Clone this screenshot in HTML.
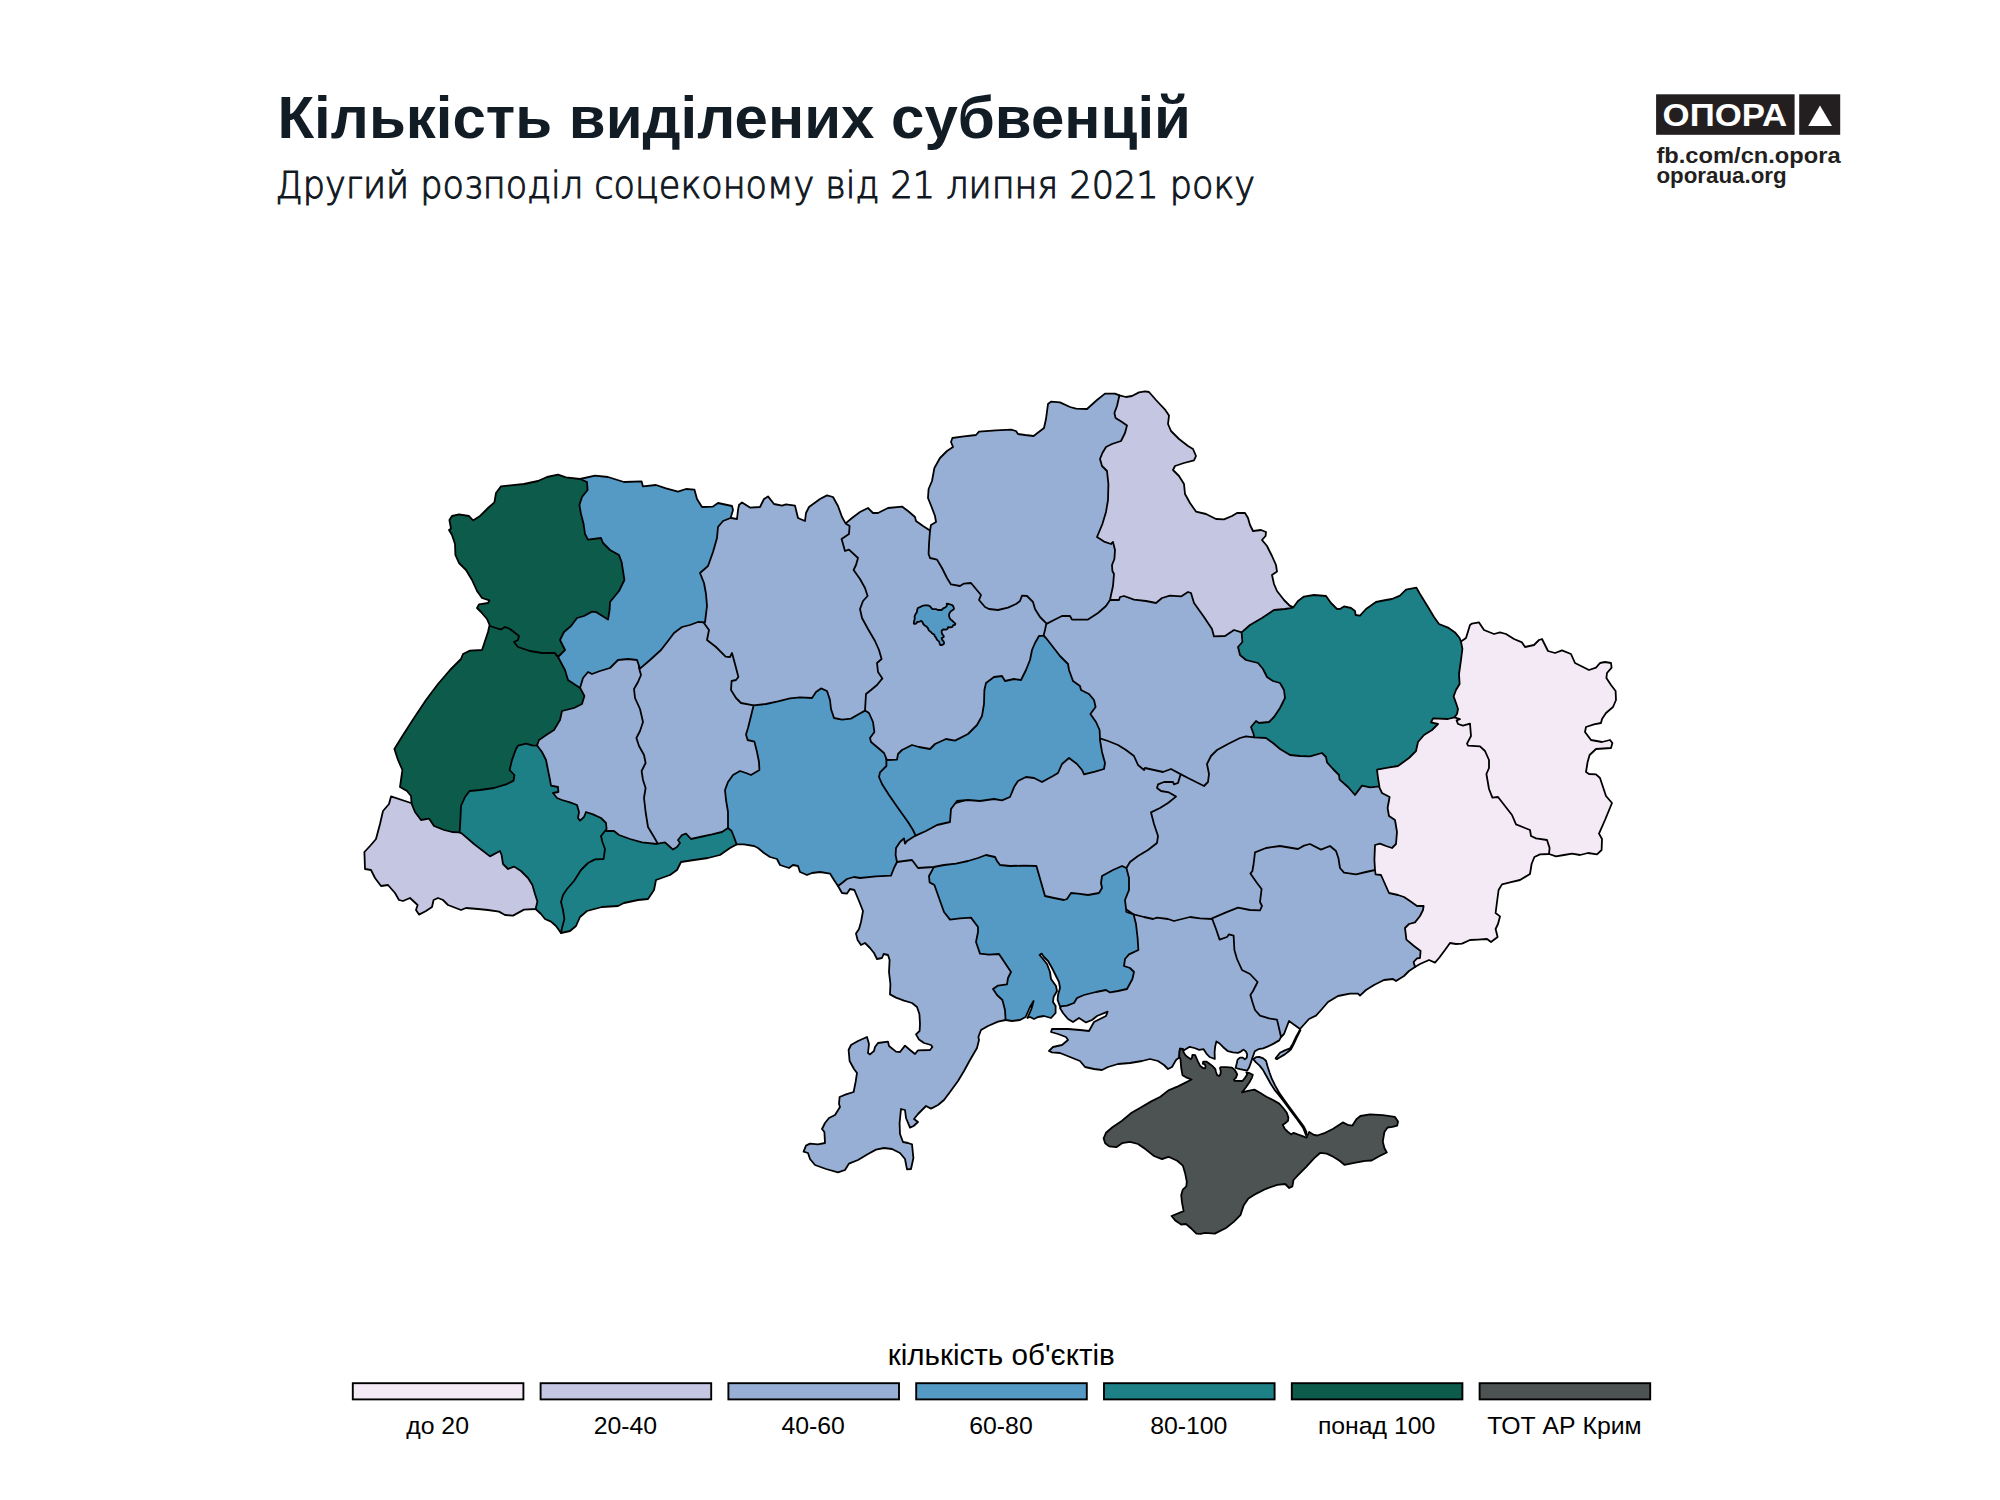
<!DOCTYPE html>
<html lang="uk"><head><meta charset="utf-8"><title>Кількість виділених субвенцій</title>
<style>
html,body{margin:0;padding:0;background:#fff;}
body{width:2000px;height:1500px;overflow:hidden;position:relative;font-family:"Liberation Sans","DejaVu Sans",sans-serif;}
svg{position:absolute;left:0;top:0;}
.t1{font-family:"Liberation Sans","DejaVu Sans",sans-serif;font-weight:bold;font-size:59.4px;fill:#121c25;}
.t2{font-family:"DejaVu Sans Light","DejaVu Sans","Liberation Sans",sans-serif;font-weight:200;font-size:37.5px;fill:#10171e;stroke:#10171e;stroke-width:1.05px;}
.lg{font-family:"Liberation Sans",sans-serif;font-size:24.8px;fill:#000;text-anchor:middle;}
.lt{font-family:"Liberation Sans",sans-serif;font-size:29.6px;fill:#000;text-anchor:middle;}
.op{font-family:"Liberation Sans",sans-serif;font-weight:bold;font-size:31.7px;fill:#fff;}
.ur{font-family:"Liberation Sans",sans-serif;font-weight:bold;font-size:21.5px;fill:#231f20;}
</style></head><body>
<svg width="2000" height="1500" viewBox="0 0 2000 1500">
<text class="t1" x="277.5" y="138" textLength="913.5" lengthAdjust="spacingAndGlyphs">Кількість виділених субвенцій</text>
<text class="t2" x="275.5" y="198" textLength="979.5" lengthAdjust="spacingAndGlyphs">Другий розподіл соцеконому від 21 липня 2021 року</text>
<g>
<rect x="1656.1" y="94.3" width="138.5" height="40.5" fill="#231f20"/>
<rect x="1799.2" y="94.3" width="41" height="40.5" fill="#231f20"/>
<polygon points="1820,105.4 1808.2,125.9 1832,125.9" fill="#fff"/>
<text class="op" x="1662.6" y="125.9" textLength="124.5" lengthAdjust="spacingAndGlyphs">ОПОРА</text>
<text class="ur" x="1656.4" y="163" textLength="184.3" lengthAdjust="spacingAndGlyphs">fb.com/cn.opora</text>
<text class="ur" x="1656.4" y="183.1" textLength="130.3" lengthAdjust="spacingAndGlyphs">oporaua.org</text>
</g>
<g stroke="#000" stroke-width="1.8" stroke-linejoin="round">
<path d="M1275.6 1058.4 L1280 1052.8 L1284.8 1050.4 L1290 1048.4 L1292.8 1043.6 L1296 1037 L1300 1029.8 L1300.5 1030.2 L1296.6 1037.8 L1293.6 1044.4 L1291 1049.4 L1288.8 1051.2 L1284.8 1054.4 L1280 1057.2 L1276.8 1059.2Z" fill="#98afd5"/>
<path d="M1253.2 1059.2 L1256 1057.2 L1259.2 1056.8 L1263.2 1058.4 L1266 1060.8 L1267.6 1066.4 L1269.6 1072.8 L1272 1079.2 L1275.2 1085.6 L1279.2 1092.8 L1284.8 1100.8 L1291.2 1109.6 L1298.4 1119.2 L1304 1126.8 L1306.4 1132 L1306 1135.2 L1303.2 1128 L1297.6 1120 L1290.4 1110.4 L1284 1101.6 L1278.4 1094.4 L1274.4 1089.6 L1270.4 1083.2 L1266.4 1076 L1262.8 1069.6 L1259.6 1065.6 L1256 1062.4Z" fill="#98afd5"/>
<path d="M838 886 L842 893 L847 893.6 L850 889 L854.4 890 L859 901 L863 911 L861 922 L859 929 L856 933.6 L857.6 940 L861 945 L865 943 L870 948 L874 953 L877 959 L882 958 L883.6 954 L888 955 L889.6 960 L889 972 L890.4 984 L890 994.4 L896 997.6 L904 1000.6 L912 1003 L917 1007 L919.4 1014 L920 1024 L919.6 1031 L916 1034.4 L919 1039.6 L924 1043 L931 1045 L932.4 1047 L930 1050 L918 1050.4 L915 1054 L910 1050 L905 1045.6 L900 1052 L896 1051.6 L889 1046 L888 1041.6 L878 1043 L875 1047 L874 1051 L870 1054.4 L868 1053 L869 1044 L867 1037 L858 1041 L851 1045 L848.6 1050 L849.6 1061 L854 1069 L857 1073 L855.6 1082 L853.6 1092 L846 1094.4 L839.6 1097 L839 1104 L840 1107 L835 1115 L829 1118 L825 1123 L822 1129 L824.4 1132 L825 1143 L818 1144.4 L810 1143.6 L806 1145.6 L803.6 1151.6 L808 1153 L810 1159 L815 1165 L826 1169 L838 1172.4 L845 1170 L849 1163.6 L858 1160 L868 1154 L876 1149.6 L884 1148 L892 1149 L900 1153 L905 1159 L907 1169.4 L911 1169 L913.4 1158 L912 1144.4 L908 1143 L903 1142 L900 1134 L899.6 1123 L901 1109 L905 1110 L906 1118 L910 1127.6 L913.6 1126 L918 1122 L914 1119 L918 1114 L926 1106 L931 1108.6 L938 1105 L944 1100 L950 1092 L958 1081 L964 1071 L970 1060 L977 1048 L979 1040 L978.4 1037 L981 1030 L988 1026 L998 1021.6 L1005.6 1020 L1016 1010 L1020 970 L990 940 L960 904 L940 872 L932 856 L910 852 L888 856 L850 868 L842 876Z" fill="#98afd5"/>
<path d="M1061 1006.4 L1060 1008 L1063 1013 L1068 1019 L1073 1022 L1079 1018 L1086 1022.4 L1092 1020 L1097 1016 L1107.6 1011.6 L1106 1016 L1094 1022 L1089 1031 L1080 1030 L1068 1029 L1052 1029 L1051 1032 L1058 1034 L1066 1037 L1068 1040 L1062 1045 L1053 1047 L1049 1051 L1052 1052.4 L1060 1053 L1070 1057 L1080 1061 L1085 1067 L1094 1069 L1102 1070 L1108 1067 L1118 1064 L1130 1063 L1142 1061 L1150 1059 L1158 1061 L1164 1065 L1168 1069 L1172 1067 L1176 1060 L1179 1057.6 L1179.2 1057.6 L1179.5 1052 L1180 1048.6 L1182.6 1048.8 L1184 1050.2 L1189.6 1046.8 L1194.4 1048 L1199.2 1049.8 L1203.6 1049.2 L1206.4 1053.6 L1209.6 1057 L1214.8 1059 L1214.6 1052 L1215.2 1046.4 L1216.4 1041.4 L1219.2 1043.2 L1223.2 1047.2 L1228 1051.2 L1232.8 1052.4 L1238 1052.8 L1240.8 1051.6 L1243.6 1049.6 L1246 1051.6 L1247.2 1054.4 L1246.8 1057.6 L1244.8 1059.4 L1242.8 1057.6 L1240 1057.6 L1237.6 1059.6 L1236.8 1063.2 L1235.6 1068 L1240 1069.2 L1247.2 1070.6 L1249.2 1067.2 L1251.2 1061.6 L1252.8 1056.8 L1254.8 1051.2 L1258.4 1049.2 L1263.2 1048.4 L1268 1046.4 L1273.6 1043.6 L1279.2 1040.4 L1281.2 1036.6 L1284 1028 L1284 1020 L1284 1020 L1280 1000 L1280 960 L1240 930 L1220 924 L1212 904 L1172 904 L1140 900 L1116 910 L1120 950 L1116 976 L1100 984 L1070 994Z" fill="#98afd5"/>
<path d="M1179.2 1057.6 L1179.5 1052 L1180 1048.6 L1182.6 1048.8 L1183.2 1051.2 L1184.8 1054.4 L1187.2 1056.8 L1190.8 1059.2 L1192 1057.6 L1192.4 1054.8 L1195.2 1055.2 L1196.4 1058 L1198 1061.6 L1200 1065.6 L1202.8 1068 L1205.2 1068.4 L1205.6 1066.4 L1204.8 1064.4 L1202.8 1063.6 L1203.2 1061.6 L1206.4 1061.6 L1208.8 1063.2 L1212 1065.6 L1215.2 1068.8 L1216 1072 L1217.2 1075.2 L1219.2 1076 L1220.4 1074.4 L1220.8 1071.2 L1220 1068 L1220.8 1067.2 L1226.4 1067.2 L1232 1067.6 L1234.4 1069.6 L1236 1072 L1237.2 1074.4 L1236 1077.6 L1234 1079.6 L1234.4 1080.8 L1242.4 1081 L1245.2 1077.6 L1247.2 1074.4 L1246.4 1072.4 L1248.8 1072.8 L1252.8 1074.8 L1252 1077.6 L1249.6 1082 L1246 1087.2 L1242 1092.4 L1248 1090.8 L1254.4 1089.6 L1260 1092.8 L1266.4 1096.8 L1273.6 1100.4 L1279.2 1103.6 L1283.2 1108 L1286.8 1112.8 L1288.4 1117.6 L1288 1120.8 L1285.2 1123.2 L1282.8 1124.8 L1284.8 1128.8 L1288 1132 L1291.2 1134.4 L1293.6 1132.8 L1297.6 1134.4 L1303.2 1136.4 L1306.4 1137.6 L1306.8 1136.8 L1309.2 1132 L1314 1134.9 L1317.2 1135.5 L1325.2 1132.8 L1333.2 1128.8 L1342.8 1122.4 L1347.6 1124.8 L1352.4 1125.6 L1356.4 1119.2 L1360.4 1116 L1370 1114.4 L1382.8 1115.2 L1394.8 1116.8 L1398 1121.6 L1397.2 1125.6 L1392.4 1126.9 L1387.6 1127.5 L1384.4 1132 L1382.8 1141.6 L1384.4 1148 L1386.8 1152.5 L1379.6 1156 L1371.6 1160.5 L1365.2 1160.8 L1355.6 1162.7 L1344.4 1164.8 L1339.6 1160.8 L1333.2 1156.8 L1326.8 1153.6 L1320.4 1152.8 L1314 1158.4 L1306 1167.2 L1298 1175.2 L1293.5 1180 L1292.4 1186.4 L1289.2 1188 L1285.2 1184 L1277.2 1184.8 L1266 1188.8 L1256.4 1193.6 L1248.4 1198.4 L1243.6 1205.6 L1240.4 1215.2 L1234 1221.6 L1226 1228 L1214.8 1233.6 L1205.2 1232.8 L1200.4 1233.9 L1196.4 1233.6 L1191.6 1228.8 L1186 1224 L1181.2 1224.5 L1175.6 1220.8 L1171.6 1216 L1183.6 1211.2 L1182 1202.4 L1181.2 1195.2 L1182.8 1189.6 L1186.3 1186.4 L1186.8 1181.6 L1185.2 1173.6 L1182.8 1165.6 L1177.2 1160.8 L1168.4 1156.8 L1162 1159.2 L1154 1156 L1146 1149.6 L1138 1144 L1130 1141.9 L1122 1143.2 L1116.4 1147.2 L1109.2 1146.4 L1105.2 1143.2 L1103.6 1138.4 L1106 1132.8 L1112.4 1127.2 L1122 1120.8 L1131.6 1112.8 L1141.2 1107.2 L1150.8 1101.6 L1160.4 1096.8 L1168.4 1090.4 L1178 1086.4 L1186 1082.4 L1191.6 1079.5 L1186 1077.3 L1182.5 1075.2 L1181.2 1068 L1180.4 1058.4Z" fill="#4d5353"/>
<path d="M1133.6 914.4 L1144 917 L1153 919 L1157 917.6 L1168 919 L1174 921 L1182 919 L1190 917 L1200 918.4 L1212 919 L1240 925 L1280 900 L1300 870 L1360 890 L1400 890 L1420 830 L1400 780 L1395 760 L1340 760 L1300 740 L1262 728 L1245 725 L1200 745 L1192 774 L1176 768 L1160 776 L1150 790 L1140 820 L1120 855 L1115 880 L1120 905Z" fill="#98afd5"/>
<path d="M1126.4 868 L1129 878 L1129 890 L1125 900 L1126.4 912 L1133.6 914.4 L1136 924 L1137.6 938 L1138.4 950 L1129 954.4 L1125 959 L1124 966 L1130 968 L1134 972 L1132.4 979 L1127 989 L1118 991 L1110 992.4 L1106 990 L1096 992 L1084 995 L1077 998 L1074 1003 L1067 1005.6 L1060 1006.4 L1057.6 1000 L1058 995 L1060 988 L1059 982 L1056 976 L1052 968 L1048 961 L1044 957 L1041.6 953.6 L1039.6 955 L1043 959 L1047 964 L1050 972 L1051 979 L1056 986 L1057 991 L1053.6 997 L1053 1002 L1055.6 1006 L1055.6 1013 L1051 1018 L1044 1016 L1038 1017 L1034 1019 L1030 1017 L1027.4 1018 L1031.4 1009 L1033.6 1001 L1030 1007 L1025.6 1017 L1020 1020 L1012 1021 L1005.6 1020 L1005 1010 L1002.4 1000 L997 995 L993 989 L998 985.6 L1007 984.4 L1008 978 L1011 972 L1005 963 L999 954 L989 954.6 L980 953.6 L976 942 L978 932 L978 927 L971 917.6 L960 918.4 L950 919.6 L944 912 L939 898 L934.4 885 L929.6 882.4 L929 876 L933.6 867.6 L940 860 L990 848 L1010 858 L1040 856 L1050 888 L1080 884 L1096 872 L1120 860Z" fill="#5599c5"/>
<path d="M1180.6 774.4 L1178 783 L1174 784.4 L1173 782 L1164 782 L1158 784.4 L1157 788 L1161 791 L1169 792.4 L1176 796.6 L1168 803 L1160 808 L1151 812.4 L1154 824 L1158 836 L1157 843 L1148 850 L1138 856 L1130 862 L1126.4 868 L1122 866 L1113 870 L1102 876 L1101 883 L1102 888 L1099 893 L1088 895 L1078 893.6 L1071 893 L1067 899 L1064 900 L1054 898 L1045 896 L1041 882 L1036.4 866 L1024 865.6 L1010 866 L1000 865 L997 861 L995 857 L986 855 L978 858 L968 861 L956 863.6 L944 865 L933.6 867 L918 868 L912 860 L904 861 L897 862 L890 860 L892 840 L908 830 L920 820 L946 806 L1000 790 L1020 770 L1060 756 L1090 760 L1096 740 L1096 734 L1110 728 L1140 736 L1180 760Z" fill="#98afd5"/>
<path d="M915.6 835.6 L926 831 L937 825 L950 822 L951 809 L957 801 L968 800 L980 801 L994 799 L1002 800.4 L1010 797 L1014.4 786.4 L1018 781 L1026 777 L1034 778 L1042 782 L1053 776 L1058 773 L1062 764 L1069 758 L1077 764 L1082 770 L1084 774.4 L1095 771.6 L1104 769 L1105 763 L1102 752 L1100 740 L1100 738.4 L1110 730 L1100 700 L1085 680 L1065 650 L1050 625 L1035 630 L1000 650 L970 690 L950 725 L900 735 L875 760 L868 780 L880 810 L900 835Z" fill="#5599c5"/>
<path d="M1375 870 L1366 872 L1356 874.4 L1344 872.6 L1340 868 L1338.4 858 L1336 851 L1330 846 L1321 849.6 L1310 844 L1304 845.6 L1298 849 L1280 846 L1266 848 L1255 852.4 L1253.6 864 L1252.4 871 L1250.4 873.6 L1257 883 L1261.6 889 L1260 902 L1262 906 L1260 910.4 L1250 910 L1238 907.6 L1226 912.4 L1212 918.4 L1216 929 L1219.6 939.6 L1227 937 L1229 934.4 L1233.6 935.6 L1234.4 950 L1237 959 L1242 970 L1250 974 L1257.6 982 L1253 991 L1250.4 995 L1252.4 1002 L1255 1010 L1260 1015.6 L1269 1018.4 L1277 1019.6 L1279 1028 L1281 1037 L1284 1034 L1289 1021 L1300 1029 L1309 1019 L1316 1015.6 L1322 1009 L1328 1002 L1338 996 L1350 993.6 L1358 993.6 L1360 995.6 L1366 990 L1374 985 L1384 980 L1393 979 L1396 981 L1404 976 L1409 971 L1415 967 L1415 967 L1430 950 L1430 910 L1400 884Z" fill="#98afd5"/>
<path d="M1549 854 L1540 854.4 L1534.4 857 L1531.6 864 L1530 874 L1520 880 L1510 882.4 L1502 884.4 L1498.6 890 L1497 902 L1495.6 913 L1500 916.4 L1498 924 L1495.6 929 L1497.6 937 L1491 942 L1487 939 L1478 939.6 L1470 940 L1462 943.6 L1456 944 L1450 943 L1445 950 L1439 958 L1435 962.6 L1429 960 L1420 964 L1415 967 L1413.6 962 L1417 958.4 L1420 958 L1420.6 951 L1414 946 L1406.4 939.6 L1405 928 L1409 924 L1415 922.4 L1420 916 L1423 910 L1423.6 906 L1417 906 L1410 901 L1404 897 L1398 895 L1389 893 L1385 884 L1381 875 L1375.6 874.4 L1375 870 L1374.4 860 L1375 845 L1380 843.6 L1386 846 L1392 848 L1396 844 L1397 832 L1395 820 L1389 816 L1387.6 808 L1389.6 797 L1382 793 L1379 786.6 L1368 778 L1380 750 L1420 720 L1450 706 L1466 710 L1480 730 L1500 760 L1510 790 L1540 826 L1560 846Z" fill="#f4eaf6"/>
<path d="M1461 641.6 L1466 638 L1470 625 L1472 623.6 L1479 622.4 L1482 627 L1484 630 L1494 634 L1500 632.4 L1506 634 L1514 639 L1522 642.4 L1525 647 L1534 645 L1539 640 L1542 639 L1545 645 L1548 651 L1555 653 L1562 650.4 L1571 654 L1575 663 L1589 670 L1596 667.6 L1600 663 L1605 662 L1611 663 L1611.6 667.6 L1607 673 L1606.4 678 L1611 685 L1615.6 691 L1616 700 L1613 707 L1606 713 L1602 719 L1601 723 L1594 724.4 L1586 727 L1585 732 L1591 740 L1602 742 L1610 740 L1612.4 743 L1611 748 L1596 749 L1589.6 755 L1587.6 762 L1586 772 L1589 774 L1596 774.4 L1600 778 L1606 796 L1612 803 L1605 820 L1599 833.6 L1602 839 L1601.6 850 L1597 854.4 L1588 853 L1580 855 L1572 853.6 L1564 855 L1556 856.4 L1549 854 L1549.6 848 L1547 840 L1536 838.4 L1531 836 L1530 830 L1516 824.4 L1512 815 L1505 806 L1498 797 L1492.4 797.6 L1489 789 L1486.4 774 L1489 768 L1489 760 L1485 751 L1480 746.4 L1468 745.6 L1467 743.6 L1471 736 L1470 723.6 L1463 725.6 L1458 724 L1456.6 720.4 L1460 719.2 L1454.4 717.4 L1440 710 L1440 650Z" fill="#f4eaf6"/>
<path d="M1293.6 607 L1298 601 L1304 596.6 L1314 595 L1326 596 L1331 603 L1337 609 L1340 609 L1344 606.4 L1351 608 L1355 611 L1355.6 615 L1360 615.6 L1366 609 L1376 602 L1386 600 L1392 599 L1400 595.6 L1406 589.6 L1416.4 587.6 L1420 594 L1428 607 L1434 617 L1439 624 L1448 627.6 L1455 632.4 L1459.6 638 L1461 641.6 L1462.4 649 L1461 660 L1459 674 L1459.6 684 L1456 690 L1453.6 696.4 L1456 703 L1458 709 L1457 714 L1454.4 717.4 L1448 719 L1433 718.4 L1431 722.4 L1438 724 L1432 730 L1424 735 L1418 742 L1416 751 L1409 758 L1398 766 L1388 767.6 L1377 769.6 L1378 778 L1379.4 786.4 L1370 787.4 L1362 785.6 L1355 795 L1348 787 L1339.6 779.6 L1339 775 L1333 769 L1327 762.4 L1326 757 L1322 753 L1310 756.4 L1300 756 L1290 755 L1280 749 L1273 743 L1266 738 L1254.4 737.4 L1248 730 L1260 700 L1232 670 L1232 636 L1232 620 L1260 600 L1280 603Z" fill="#1e8087"/>
<path d="M1241.6 632.4 L1242.4 642 L1238 647 L1240 655 L1246 660 L1258 663 L1263 669 L1267 677 L1273 681 L1280 683 L1284 690 L1285 698 L1280 708 L1274 717 L1269 722 L1259 723 L1256 721 L1251 727 L1253.6 734 L1254 737.4 L1246 736.4 L1240 738 L1228 744 L1217 750 L1211 756 L1207 764 L1209 774 L1208 782 L1204 786 L1196 782 L1188 778 L1181 774.4 L1171 769 L1163 772 L1154 770 L1145 768 L1144 770 L1138 765 L1134 756 L1126 750 L1118 745 L1108 741 L1100 738.4 L1099.6 730 L1096 722 L1090.4 714 L1095.6 707 L1094 700 L1089 694 L1081 690 L1080 686 L1073 681 L1069 670 L1068 664 L1060 656 L1053 647 L1046 638 L1043.6 635.6 L1040 628 L1060 606 L1100 590 L1120 586 L1160 580 L1200 580 L1220 610 L1230 620Z" fill="#98afd5"/>
<path d="M1119.4 395.4 L1126 397 L1132 396 L1139 392.4 L1145 391.4 L1149 392 L1156 400 L1165 409.6 L1169 415.6 L1168 424 L1171 431 L1179 439 L1188 446 L1193 449 L1196 456 L1194 460.4 L1184 463 L1175 466 L1173 470 L1179 476 L1184 484 L1185 494 L1190 503 L1196 511.6 L1206 514 L1216 519 L1224 519.4 L1232 516 L1237 513 L1245 513 L1248 518 L1250 525 L1253 531 L1261 530 L1266 532 L1265.6 536 L1262 540 L1267 546 L1272 556 L1276 565 L1277 571.6 L1272 575 L1274 584 L1277 591 L1284 600 L1290 606 L1293 607.6 L1285 609 L1274 610 L1262 618 L1250 625 L1241.6 632.4 L1234 630 L1225 636 L1214 636.4 L1212 629 L1204 617 L1194 603 L1191 593 L1188 592 L1181 596.4 L1170 595.6 L1162 598 L1156 603 L1146 601 L1134 599.6 L1124 596 L1120 597 L1119 600 L1110 600 L1096 590 L1090 540 L1092 460 L1108 420Z" fill="#c5c7e2"/>
<path d="M930 530.6 L931 525 L936 522 L935 516 L931.6 507 L928 498 L928.6 489 L932 481 L934.4 468 L940 458 L947 451 L953 447 L951 442 L952.4 438 L962 436.6 L976 435 L979 431.6 L996 430.4 L1011 429.6 L1016 431 L1018 434 L1025 435 L1033.6 436 L1044 428 L1046 419 L1048 404 L1051 401.6 L1060 402.4 L1070 407 L1076 408.6 L1087 409 L1097 400 L1105 393.6 L1115 393.6 L1119.4 395.4 L1117 406 L1114.4 413 L1115.6 418 L1122 422 L1127 425.6 L1125 433 L1121 441 L1112 444 L1106 447 L1102.4 453 L1100 459 L1102 466 L1107 471 L1108.4 484 L1108 500 L1106 512 L1102.4 524 L1097 537 L1104 541.6 L1111 544 L1113 542 L1115 550 L1114.4 559 L1112 565 L1112.4 571 L1114 574 L1113 586 L1111 595 L1110 600 L1106 606 L1098 613 L1088 619.6 L1072 619.6 L1070 616 L1062 616 L1054 620 L1047 623.6 L1030 630 L980 620 L950 600 L920 550 L920 532Z" fill="#98afd5"/>
<path d="M886.4 760 L886.4 766 L880 772.4 L879 777 L882 784 L889 795 L898 808 L908 822 L913 830 L915.6 835.6 L907 841 L905 843.6 L904 838.4 L900 842 L896 848 L895.6 855 L897 862 L894 868 L891 875.6 L876 876.4 L860 878 L854 877 L847 879 L842 883 L838 886 L834 880 L830 873.6 L820 872 L812 873 L807 875 L800 872 L798 866 L793 865 L789 868 L780 865 L777 859 L770 857 L764 853 L758 848 L754 846 L744 844.4 L736.6 844.4 L728 840 L716 820 L720 780 L740 760 L740 720 L752 696 L800 680 L850 680 L876 720 L884 744Z" fill="#5599c5"/>
<path d="M845.6 523.4 L852 518 L860 512 L868 508 L873 513 L878 513 L888 508 L902 506.6 L908 511 L915 517 L916 521 L923 526 L930 530.6 L929 544 L928.6 554 L930 558 L937 559.6 L942 568 L947 578 L951 584.4 L960 586 L964 583.6 L971 583 L976 589 L981 595 L979 600 L985 607 L989 609 L998 610 L1008 607.6 L1016 604 L1020 601 L1022 595.6 L1027 596 L1033 602 L1035 609 L1040 617 L1046.4 623.4 L1045 630 L1043.6 635.6 L1039 636 L1035 643 L1032 650 L1030 660 L1026 670 L1021 680 L1014 679 L1005 681 L1002 676 L994 677 L986 683 L984.4 690 L984 704 L982 716 L977 725 L968 734 L955 740.6 L946 739 L935 744 L930 749 L919 747 L912 745 L902 750 L898 754 L897 759.6 L887 760 L884 753 L877 747 L871 742 L870 738 L874.4 732 L873 722 L869 713 L865 710.6 L856 690 L850 630 L840 570 L836 530Z" fill="#98afd5"/>
<path d="M913.8 623.6 L914 621.2 L914.8 618.8 L914.6 616.4 L915.6 614 L916.8 612.4 L917.2 610 L917.8 608 L920 607.2 L922.4 605.8 L924.8 605.4 L928 605.4 L929.6 606 L931.2 607.6 L932.4 609.2 L934 609.2 L936 609.2 L938 610 L941.6 610 L943.2 608.4 L945.6 607.2 L946.8 606 L946.8 603.6 L948.8 604 L951.6 604.8 L953.2 606 L954 608.8 L952.8 610 L950.8 611.2 L949.4 613.2 L949 615.6 L949.6 618 L950.8 619.6 L952.4 620.8 L954 622.4 L955.4 623.6 L955 624.8 L953.2 625.2 L952.4 626.8 L950.4 627.4 L948 627.2 L947.6 628.8 L946 629.6 L943.2 629.4 L941.8 630.4 L941.6 632.4 L942.4 634.4 L943.8 636 L943.6 637.2 L941.6 638 L942 639.6 L943.4 641.2 L944.2 642.8 L943.6 644.2 L942 645 L940.4 645.2 L939.6 643.6 L939.2 641.6 L937.6 640.4 L936.4 638.8 L935.8 637.2 L934.8 636.4 L934.4 634.8 L932 633.2 L930.4 631.6 L928.8 630.4 L928 628.4 L926.8 626.8 L924.8 625.6 L923.2 624 L922.4 622 L921.2 620.8 L919.6 621.6 L917.2 622 L916 623.6 L914.4 624Z" fill="#5599c5"/>
<path d="M731 518 L737 519 L738 510 L739 505 L742 502.4 L750 507.6 L760 507 L764 499 L768 496.4 L774 504 L782 505.6 L786 504.4 L795 505.6 L798 518 L805 521 L806 513 L809 507 L820 499 L827 495.4 L833 497 L838 506 L842 517 L845.6 523.4 L849.6 526 L849 534 L841.6 539 L845 551 L849 549.6 L858 558 L856 565 L853.6 570 L860 579 L865 588 L867.6 596 L863 601 L860 609 L862 618 L868 629 L875 641 L879 650 L881.6 659 L877 663 L878 672 L882.4 678.4 L877 685 L871 690 L866 694 L865 710.6 L859 714 L851 718.6 L842 719.6 L834 718 L831 709 L830 700 L827 691 L821 688.4 L816 692 L812 698 L800 697.4 L790 698.4 L778 701.4 L766 704 L753.6 705.4 L740 716 L720 690 L716 660 L696 636 L692 610 L692 550 L710 510Z" fill="#98afd5"/>
<path d="M703.6 622.4 L709 630 L707 640 L716 647 L725.6 656.6 L730 657 L732 653 L735 664 L738.4 677 L736 680 L731.6 681 L731 690 L736 698 L741 703 L753.6 705.4 L751 716 L748 728 L746 734.4 L747.6 740 L754.4 741.6 L757 752 L759 762 L759.4 770 L751 775 L746 773 L740 771 L733 775 L728 782 L725 790 L726 800 L728 812 L728 828 L710 846 L684 850 L666 858 L640 830 L630 740 L630 680 L630 650 L660 630 L690 612 L700 614Z" fill="#98afd5"/>
<path d="M639 668 L641 675 L638 682 L634 689 L635 698 L640 709 L643 722 L640 731 L636.4 738 L639 746 L644 755 L645.6 763 L641.6 771 L643 780 L645.6 788 L644 798 L645.6 812 L648 827 L654 837 L658 844 L630 856 L590 840 L570 820 L540 790 L530 752 L530 736 L550 716 L570 690 L574 670 L600 652 L640 652Z" fill="#98afd5"/>
<path d="M605 831 L614 831 L619 835 L630 839 L642 842.4 L657 844 L658 843.6 L665 842.4 L669 846 L673 849.6 L677 847 L680 843 L678 840 L682 835 L686 833.6 L691 839 L700 837 L712 834.4 L722 832 L728 828 L731.6 831 L734 837 L736.6 844.4 L730 848 L720 855 L708 858 L694 860 L681 862 L677 870 L670 875 L656 880 L654 890 L648 899 L638 900 L624 903 L618 906 L602 907 L587 911 L580 917 L576 926 L570 931 L561 933 L550 900 L570 870 L590 850 L596 830Z" fill="#1e8087"/>
<path d="M537 745.4 L542 752 L546 760 L548 770 L550 780 L551 785.6 L558 787 L558.4 792 L553 793 L557 798 L562 800 L570 802.4 L577 805 L579 812 L578 818 L580 820.6 L584 817 L586 812 L593 814.4 L601 818 L606 823 L606.6 829 L605 831 L601 836 L602.4 842 L605 849 L603.6 859 L595 859.4 L588 863 L581 870 L574 881 L567 889 L563 895 L561 902 L563 910 L564.4 919 L562 928 L561 933 L556 926 L551 921.6 L545 919 L541 914 L535.6 909 L520 890 L494 866 L470 852 L450 836 L450 820 L458 792 L490 780 L504 768 L510 748 L530 736Z" fill="#1e8087"/>
<path d="M391 796.4 L411 803 L420 806 L440 820 L456 826 L459.6 832.4 L462 833.6 L474 844 L490 856.4 L500 851 L501.6 855 L503 864 L508 869 L514 866.6 L521 871 L528 878 L532.4 885 L535 894 L537.4 901.6 L535.6 909 L524 909.6 L513 915.6 L505 915 L499 911.6 L488 910 L478 909 L466 908 L461 910 L448 905 L443 900 L438 898 L433.6 900 L432 907 L426 911 L419 914.6 L416 910 L417.6 905 L410 898 L403 901 L399 900 L395 893 L388 885 L381 886 L375 878 L371 870 L365 869 L364.4 852 L370 846 L376 839 L380 824 L383 811 L389 804Z" fill="#c5c7e2"/>
<path d="M489.4 626 L488 632 L482 650 L470 650.6 L463 654 L461 659 L450 670 L438 684 L426 700 L414 718 L402.4 736 L394.4 749 L398 760 L402.4 770 L400 787 L407 791 L411 796 L411.6 803.6 L415 812 L421 820 L429 818.6 L434 826 L444 830 L452 832 L459.6 832.4 L460.4 820 L461 806 L465 797 L469.6 791 L480 790 L494 788 L506 784.4 L513.6 780.6 L514.4 775 L509.6 770 L512 760 L516 749 L518 745.6 L526 743.6 L533 745.6 L537 745.4 L539 740 L547 734.4 L554 730 L560 720 L562 711 L574 708 L582 704 L584.4 696 L580 687.6 L578 672 L565 650 L545 640 L520 620 L495 615Z" fill="#0d5c4b"/>
<path d="M580 479 L595 475.6 L608 477 L624 482 L641.6 481.4 L643 486.4 L656 485 L666 488.4 L678 491.6 L686 489 L694.4 489.6 L697 499 L702 507 L713 506.6 L718 503 L732 506 L733 510 L730.6 518 L723 521 L718 527 L717 538 L713 552 L708 566 L700 573 L704 583 L706 594 L707 606 L705 622.4 L698 622 L690 625 L682 627 L674 633 L668 641 L661 650 L650 660 L640 668.6 L637 660 L628 659 L618 660 L610 668 L600 671 L592 674 L588 672 L583 678 L580 688 L568 680 L565 670 L558 657 L550 648 L550 590 L570 510 L570 482Z" fill="#5599c5"/>
<path d="M501 486.4 L524 484 L538 481 L547 477 L558 474.6 L566 477.4 L580 479 L587 482 L587.6 490 L582 497 L579.4 505 L581 514 L583.6 524 L585 534 L588 539.6 L601 538 L603 543 L610 550 L619 555 L621.6 562 L624.4 580 L619 591 L610 602 L609.6 610 L608 619.6 L596 612 L592 611.6 L584 616 L577 618 L571 626 L564 632 L560 640 L565 650 L558 657 L555 653 L542 653 L530 651 L518 647 L514 642 L518 640 L519 636 L510 629 L505 627 L501 629.4 L499 629 L490 626 L487 619 L481 612 L477 608 L479 604.4 L488 603 L489.4 600.4 L482 598 L477 591 L472 580 L466 570 L459 563 L455.4 555 L455 544 L452 535 L449 530 L451 528.6 L449.4 520 L452 516 L459 514.4 L469 516 L473 520.4 L480 516 L488 508 L494.4 502.4 L496 493Z" fill="#0d5c4b"/>
</g>
<text class="lt" x="1001.3" y="1364.8">кількість об'єктів</text>
<g stroke="#000" stroke-width="1.9">
<rect x="352.8" y="1383.2" width="170.6" height="16.2" fill="#f4eaf6"/>
<rect x="540.6" y="1383.2" width="170.6" height="16.2" fill="#c5c7e2"/>
<rect x="728.4" y="1383.2" width="170.6" height="16.2" fill="#98afd5"/>
<rect x="916.2" y="1383.2" width="170.6" height="16.2" fill="#5599c5"/>
<rect x="1104" y="1383.2" width="170.6" height="16.2" fill="#1e8087"/>
<rect x="1291.8" y="1383.2" width="170.6" height="16.2" fill="#0d5c4b"/>
<rect x="1479.6" y="1383.2" width="170.6" height="16.2" fill="#4d5353"/>
</g>
<text class="lg" x="437.6" y="1434">до 20</text>
<text class="lg" x="625.4" y="1434">20-40</text>
<text class="lg" x="813.2" y="1434">40-60</text>
<text class="lg" x="1001" y="1434">60-80</text>
<text class="lg" x="1188.8" y="1434">80-100</text>
<text class="lg" x="1376.6" y="1434">понад 100</text>
<text class="lg" x="1564.4" y="1434">ТОТ АР Крим</text>
</svg>
</body></html>
